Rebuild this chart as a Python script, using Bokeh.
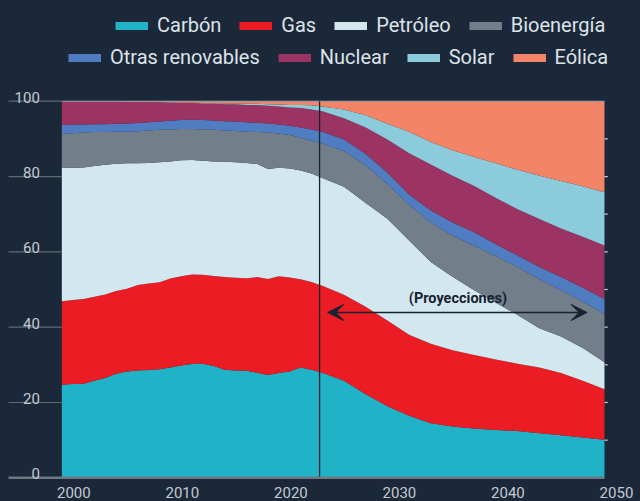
from bokeh.plotting import figure
from bokeh.models import (ColumnDataSource, Legend, LegendItem, Arrow, VeeHead,
                          Range1d, Label)
from bokeh.core.properties import value
from bokeh.embed import file_html
from bokeh.resources import INLINE

# ---------------- data (shares of primary energy, %) ----------------
YEARS = list(range(2000, 2024)) + list(range(2024, 2051, 2))

CARBON = [24.7, 24.9, 25.0, 25.8, 26.5, 27.6, 28.2, 28.5, 28.6, 28.8, 29.3, 29.8,
          30.2, 30.3, 29.7, 28.7, 28.5, 28.4, 27.9, 27.3, 27.8, 28.2, 29.3, 28.7,
          27.9, 25.8, 22.2, 19.0, 16.5, 14.5, 13.6, 13.1, 12.7, 12.4, 11.8, 11.3, 10.7, 10.1]
GAS = [22.2, 22.3, 22.5, 22.3, 22.2, 22.0, 22.0, 22.7, 23.0, 23.1, 23.6, 23.7,
       23.8, 23.6, 23.9, 24.6, 24.6, 24.6, 25.4, 25.5, 25.7, 25.0, 23.4, 23.3,
       23.1, 22.8, 23.2, 22.8, 21.5, 21.1, 20.3, 19.5, 18.7, 17.9, 17.5, 16.5, 15.1, 13.4]
PETROLEO = [35.4, 35.1, 34.9, 34.7, 34.4, 33.8, 33.3, 32.3, 32.0, 31.9, 31.1, 30.8,
            30.4, 30.3, 30.4, 30.6, 30.7, 30.6, 30.0, 29.2, 28.8, 28.9, 28.9, 28.8,
            28.6, 28.7, 27.6, 27.0, 25.0, 21.7, 19.5, 17.2, 15.1, 12.9, 10.4, 9.7, 8.7, 7.2]
BIOENERGIA = [9.0, 9.2, 9.3, 9.0, 8.7, 8.5, 8.4, 8.5, 8.6, 8.6, 8.5, 8.3,
              8.2, 8.3, 8.4, 8.3, 8.3, 8.3, 8.5, 9.7, 9.1, 8.9, 8.7, 8.7,
              9.2, 9.5, 10.0, 9.2, 9.5, 10.5, 10.9, 11.8, 12.3, 12.8, 13.0, 12.3, 12.3, 12.8]
OTRAS = [2.4, 2.3, 2.1, 2.1, 2.1, 2.1, 2.2, 2.2, 2.2, 2.2, 2.3, 2.4,
         2.5, 2.5, 2.5, 2.5, 2.5, 2.5, 2.5, 2.4, 2.4, 2.5, 2.7, 3.0,
         3.1, 3.0, 3.0, 3.0, 2.7, 3.2, 3.5, 3.6, 3.2, 3.0, 3.3, 3.5, 3.7, 4.0]
NUCLEAR = [6.2, 6.1, 6.1, 6.0, 6.0, 5.9, 5.7, 5.6, 5.4, 5.1, 4.8, 4.5,
           4.4, 4.4, 4.5, 4.5, 4.6, 4.6, 4.7, 4.7, 4.8, 4.8, 5.2, 5.3,
           5.4, 5.7, 7.0, 8.8, 11.0, 12.2, 12.4, 12.3, 12.3, 12.3, 12.7, 12.9, 13.5, 14.2]
SOLAR = [0.0, 0.0, 0.0, 0.0, 0.0, 0.0, 0.0, 0.0, 0.0, 0.0, 0.1, 0.1,
         0.1, 0.1, 0.1, 0.2, 0.2, 0.3, 0.3, 0.4, 0.5, 0.7, 0.8, 1.1,
         1.3, 2.3, 3.3, 4.2, 5.7, 6.0, 6.8, 7.7, 9.2, 10.5, 11.5, 12.6, 13.4, 14.1]
EOLICA = [0.1, 0.1, 0.1, 0.1, 0.1, 0.1, 0.2, 0.2, 0.2, 0.3, 0.3, 0.4,
          0.4, 0.5, 0.5, 0.6, 0.6, 0.7, 0.7, 0.8, 0.9, 1.0, 1.0, 1.1,
          1.4, 2.2, 3.7, 6.0, 8.1, 10.8, 13.0, 14.8, 16.5, 18.2, 19.8, 21.2, 22.6, 24.2]

SERIES = ["Carbón", "Gas", "Petróleo", "Bioenergía",
          "Otras renovables", "Nuclear", "Solar", "Eólica"]
VALUES = [CARBON, GAS, PETROLEO, BIOENERGIA, OTRAS, NUCLEAR, SOLAR, EOLICA]
COLORS = ["#20b2c7", "#ec1c24", "#d3e8ee", "#727e8a",
          "#507cc1", "#9c3463", "#8bcbdb", "#f38467"]

Y_TICKS = [0, 20, 40, 60, 80, 100]
X_TICKS = [2000, 2010, 2020, 2030, 2040, 2050]
RIGHT_TICKS = [10, 20, 30, 40, 50, 60, 70, 80, 90]

PROJECTION_START = 2023.75
ARROW_FROM, ARROW_TO, ARROW_LEVEL = 2024.5, 2048.4, 43.9
NOTE = "(Proyecciones)"
NOTE_X, NOTE_Y = 2036.5, 47.6

# ---------------- style ----------------
BG = "#1a2839"
DARK = "#17222f"
LABEL_COLOR = "#dde3e8"
TICK_LABEL_COLOR = "#c3cad1"
FONT = "Roboto"

X_START, X_END = 1994.35, 2053.32      # frame covers the whole canvas width
Y_START, Y_END = -6.29, 126.74         # frame covers the whole canvas height
TICKLINE_START = 1995.09               # left tick lines start a bit inside the canvas
RIGHT_TICK_END = 2050.3                # short marks just right of the data

p = figure(width=640, height=501,
           x_range=Range1d(X_START, X_END), y_range=Range1d(Y_START, Y_END),
           x_axis_type=None, y_axis_type=None,
           output_backend="svg", toolbar_location=None,
           min_border_left=0, min_border_right=0, min_border_top=0, min_border_bottom=0,
           background_fill_color=BG, border_fill_color=BG, outline_line_color=None)
p.grid.visible = False

data = {"year": YEARS}
for name, vals in zip(SERIES, VALUES):
    data[name] = vals
source = ColumnDataSource(data)
p.varea_stack(stackers=SERIES, x="year", color=COLORS, source=source)

# top reference line and projection divider
p.line(x=[YEARS[0], YEARS[-1]], y=[Y_TICKS[-1]] * 2, line_color="#9aa5b0", line_width=1)
p.segment(x0=[PROJECTION_START], y0=[Y_TICKS[0]], x1=[PROJECTION_START], y1=[Y_TICKS[-1]],
          line_color=DARK, line_width=1.3)

# left tick lines + labels, baseline
p.segment(x0=[TICKLINE_START] * (len(Y_TICKS) - 1), x1=[YEARS[0]] * (len(Y_TICKS) - 1),
          y0=Y_TICKS[1:], y1=Y_TICKS[1:], line_color="#5d6a78", line_width=1.2)
p.segment(x0=[TICKLINE_START], x1=[YEARS[-1]], y0=[Y_TICKS[0]], y1=[Y_TICKS[0]],
          line_color="#6d7884", line_width=2.5)
p.text(x=[YEARS[0]] * len(Y_TICKS), y=Y_TICKS, text=[str(t) for t in Y_TICKS],
       x_offset=-22, y_offset=-4, text_align="right", text_baseline="alphabetic",
       text_font=value(FONT), text_font_size="15px", text_color=TICK_LABEL_COLOR)

# x tick labels
p.text(x=X_TICKS, y=[Y_TICKS[0]] * len(X_TICKS), text=[str(t) for t in X_TICKS],
       x_offset=12, y_offset=9, text_align="center", text_baseline="top",
       text_font=value(FONT), text_font_size="15px", text_color=TICK_LABEL_COLOR)

# small tick marks on the right edge
p.segment(x0=[YEARS[-1]] * len(RIGHT_TICKS), x1=[RIGHT_TICK_END] * len(RIGHT_TICKS),
          y0=RIGHT_TICKS, y1=RIGHT_TICKS, line_color="#c8d0d8", line_width=1.2)

# projections arrow + note
p.add_layout(Arrow(start=VeeHead(size=16, fill_color=DARK, line_color=DARK),
                   end=VeeHead(size=16, fill_color=DARK, line_color=DARK),
                   x_start=ARROW_FROM, y_start=ARROW_LEVEL, x_end=ARROW_TO, y_end=ARROW_LEVEL,
                   line_color=DARK, line_width=1.5))
p.add_layout(Label(x=NOTE_X, y=NOTE_Y, text=NOTE, text_align="center", text_baseline="middle",
                   text_font=FONT, text_font_style="bold", text_font_size="14.5px",
                   text_color=DARK))

# legend swatches (thin bars) - invisible proxy renderers
items = []
for name, c in zip(SERIES, COLORS):
    r = p.line(x=[YEARS[0]], y=[float("nan")], line_color=c, line_width=8)
    items.append(LegendItem(label=name, renderers=[r]))

def make_legend(its, loc):
    return Legend(items=its, orientation="horizontal", location=loc,
                  glyph_width=33, glyph_height=23, label_standoff=9, spacing=18,
                  padding=0, margin=0, label_height=23,
                  label_text_font=FONT, label_text_font_size="20px",
                  label_text_color=LABEL_COLOR,
                  background_fill_alpha=0, border_line_alpha=0)

p.add_layout(make_legend(items[:4], (115, 464)))
p.add_layout(make_legend(items[4:], (68, 432)))

html = file_html(p, INLINE, title="Energía primaria")
html = html.replace("</head>", "<style>body{background:%s;}</style></head>" % BG)
open("out.html", "w").write(html)
